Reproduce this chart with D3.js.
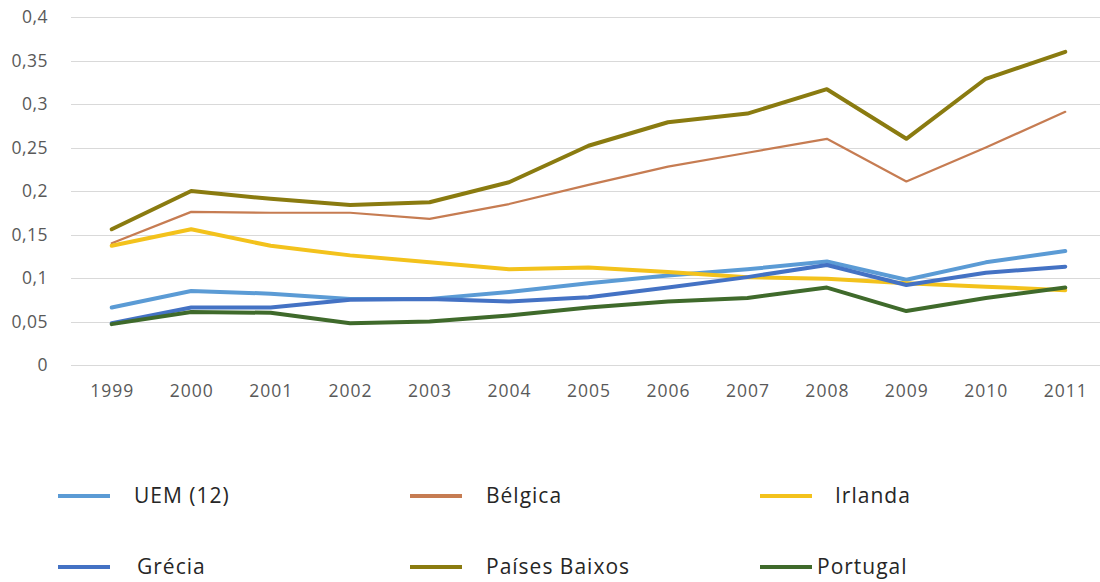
<!DOCTYPE html>
<html>
<head>
<meta charset="utf-8">
<script src="https://cdn.jsdelivr.net/npm/d3@7"></script>
<style>
  html, body { margin: 0; padding: 0; background: #fff; }
  svg { display: block; }
</style>
</head>
<body>
<svg id="chart" width="1100" height="582"></svg>
<script>
// Anos (categorias do eixo X)
const years = ["1999","2000","2001","2002","2003","2004","2005","2006","2007","2008","2009","2010","2011"];

// Séries
const uem          = [0.066,0.085,0.082,0.076,0.076,0.084,0.094,0.103,0.110,0.119,0.098,0.118,0.131];
const belgica      = [0.140,0.176,0.175,0.175,0.168,0.185,0.207,0.228,0.244,0.260,0.211,0.250,0.291];
const irlanda      = [0.137,0.156,0.137,0.126,0.118,0.110,0.112,0.107,0.101,0.099,0.094,0.090,0.086];
const grecia       = [0.048,0.066,0.066,0.075,0.076,0.073,0.078,0.089,0.101,0.115,0.092,0.106,0.113];
const paisesBaixos = [0.156,0.200,0.191,0.184,0.187,0.210,0.252,0.279,0.289,0.317,0.260,0.329,0.360];
const portugal     = [0.047,0.061,0.060,0.048,0.050,0.057,0.066,0.073,0.077,0.089,0.062,0.077,0.089];

// Marcas do eixo Y
const yTicks = [0, 0.05, 0.1, 0.15, 0.2, 0.25, 0.3, 0.35, 0.4];
const yTickLabels = ["0","0,05","0,1","0,15","0,2","0,25","0,3","0,35","0,4"];

const seriesNames = ["UEM (12)","Bélgica","Irlanda","Grécia","Países Baixos","Portugal"];

const series = [
  { name: seriesNames[0], values: uem,          color: "#5b9bd5", width: 4 },
  { name: seriesNames[1], values: belgica,      color: "#c67c52", width: 2.2 },
  { name: seriesNames[2], values: irlanda,      color: "#f3c21c", width: 4 },
  { name: seriesNames[3], values: grecia,       color: "#4472c4", width: 4 },
  { name: seriesNames[4], values: paisesBaixos, color: "#8a7b10", width: 4 },
  { name: seriesNames[5], values: portugal,     color: "#3f6a2b", width: 4 }
];

const svg = d3.select("#chart");
const font = "'Open Sans', 'DejaVu Sans', sans-serif";

const x = d3.scalePoint().domain(years).range([72, 1105]).padding(0.5);
const y = d3.scaleLinear().domain([0, 0.4]).range([365, 17]);

// Grelha horizontal
svg.append("g")
  .selectAll("line")
  .data(yTicks)
  .join("line")
  .attr("x1", 71).attr("x2", 1100)
  .attr("y1", d => Math.round(y(d)) + 0.5)
  .attr("y2", d => Math.round(y(d)) + 0.5)
  .attr("stroke", "#d9d9d9")
  .attr("stroke-width", 1);

// Eixo Y
const yAxis = d3.axisLeft(y)
  .tickValues(yTicks)
  .tickFormat((d, i) => yTickLabels[i])
  .tickSize(0)
  .tickPadding(0);
const gy = svg.append("g").attr("transform", "translate(48,0)").call(yAxis);
gy.select(".domain").remove();
gy.selectAll("text")
  .attr("font-family", font)
  .attr("font-size", 17.5)
  .attr("letter-spacing", "0.5px")
  .attr("fill", "#595959");

// Eixo X
const xAxis = d3.axisBottom(x).tickSize(0).tickPadding(0);
const gx = svg.append("g").attr("transform", "translate(0,385)").call(xAxis);
gx.select(".domain").remove();
gx.selectAll("text")
  .attr("font-family", font)
  .attr("font-size", 17.5)
  .attr("letter-spacing", "1px")
  .attr("fill", "#595959");

// Linhas
const line = d3.line()
  .x((d, i) => x(years[i]))
  .y(d => y(d));

svg.append("g")
  .selectAll("path")
  .data(series)
  .join("path")
  .attr("d", d => line(d.values))
  .attr("fill", "none")
  .attr("stroke", d => d.color)
  .attr("stroke-width", d => d.width)
  .attr("stroke-linejoin", "round")
  .attr("stroke-linecap", "round");

// Legenda
const legendPos = [
  { lx: 58,  ly: 496, tx: 134 },
  { lx: 410, ly: 496, tx: 486 },
  { lx: 760, ly: 496, tx: 835 },
  { lx: 58,  ly: 567, tx: 137 },
  { lx: 410, ly: 567, tx: 486 },
  { lx: 760, ly: 567, tx: 817 }
];

const legend = svg.append("g")
  .selectAll("g")
  .data(series)
  .join("g");

legend.append("line")
  .attr("x1", (d, i) => legendPos[i].lx)
  .attr("x2", (d, i) => legendPos[i].lx + 52)
  .attr("y1", (d, i) => legendPos[i].ly)
  .attr("y2", (d, i) => legendPos[i].ly)
  .attr("stroke", d => d.color)
  .attr("stroke-width", 4);

legend.append("text")
  .attr("x", (d, i) => legendPos[i].tx)
  .attr("y", (d, i) => legendPos[i].ly)
  .attr("dy", "0.35em")
  .attr("font-family", font)
  .attr("font-size", 21)
  .attr("letter-spacing", "1px")
  .attr("fill", "#262626")
  .text(d => d.name);
</script>
</body>
</html>
